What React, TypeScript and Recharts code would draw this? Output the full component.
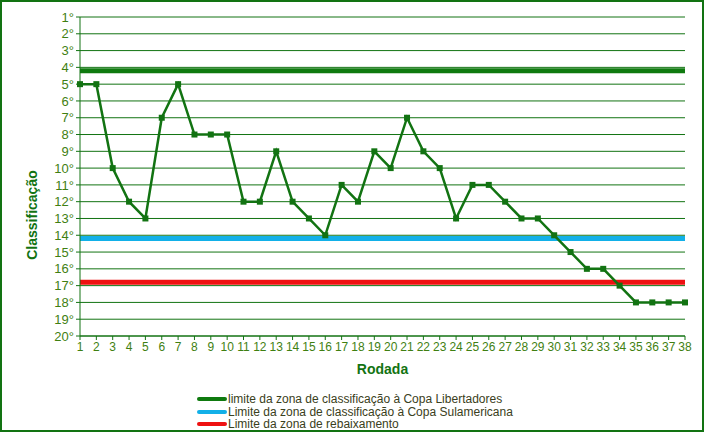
import React from "react";
import { LineChart, Line, XAxis, YAxis, CartesianGrid, ReferenceLine, Label } from "recharts";

const rodadas = Array.from({ length: 38 }, (_, i) => i + 1);
const posicoes = [
  5, 5, 10, 12, 13, 7, 5, 8, 8, 8, 12, 12, 9, 12, 13, 14, 11, 12, 9, 10, 7, 9, 10, 13, 11, 11, 12,
  13, 13, 14, 15, 16, 16, 17, 18, 18, 18, 18,
];
const yTicks = Array.from({ length: 20 }, (_, i) => i + 1);

const limites = [
  { label: "limite da zona de classificação à Copa Libertadores", y: 4.2, color: "#0f7a0f" },
  { label: "Limite da zona de classificação à Copa Sulamericana", y: 14.2, color: "#12b0e8" },
  { label: "Limite da zona de rebaixamento", y: 16.8, color: "#ee1111" },
];

const GREEN = "#127312";
const TICK = "#3f7f12";
const FONT = "'Liberation Sans', Arial, sans-serif";

const data = rodadas.map((r, i) => ({ rodada: r, pos: posicoes[i] }));

const SquareDot = (props: any) => {
  const { cx, cy } = props;
  if (cx == null || cy == null) return null;
  return <rect x={cx - 3} y={cy - 3} width={6} height={6} fill={GREEN} />;
};

// titulo do eixo Y, um pouco abaixo do centro como no original
const YTitle = () => (
  <text
    x={30}
    y={213}
    transform="rotate(-90, 30, 213)"
    textAnchor="middle"
    dominantBaseline="central"
    style={{ fill: GREEN, fontSize: 14, fontWeight: "bold", fontFamily: FONT }}
  >
    Classificação
  </text>
);

const App: React.FC = () => {
  return (
    <div
      style={{
        position: "absolute",
        left: 0,
        top: 0,
        width: 704,
        height: 432,
        border: `2px solid ${GREEN}`,
        boxSizing: "border-box",
        background: "#fff",
        fontFamily: FONT,
      }}
    >
      <LineChart width={700} height={428} data={data} margin={{ top: 15, right: 17, bottom: 54, left: 0 }}>
        <CartesianGrid horizontal vertical={false} stroke={GREEN} strokeOpacity={1} />
        <XAxis
          dataKey="rodada"
          height={40}
          interval={0}
          stroke={GREEN}
          tickSize={4}
          tick={{ fill: TICK, fontSize: 12, fontFamily: FONT }}
        >
          <Label
            value="Rodada"
            position="insideBottom"
            offset={2}
            style={{ fill: GREEN, fontSize: 14, fontWeight: "bold", fontFamily: FONT }}
          />
        </XAxis>
        <YAxis
          type="number"
          domain={[1, 20]}
          reversed
          ticks={yTicks}
          interval={0}
          width={78}
          stroke={GREEN}
          tickSize={4}
          tickFormatter={(v: number) => `${v}°`}
          tick={{ fill: TICK, fontSize: 13, fontFamily: FONT }}
        >
          <Label content={<YTitle />} />
        </YAxis>
        {limites.map((l) => (
          <ReferenceLine key={l.label} y={l.y} stroke={l.color} strokeWidth={5} ifOverflow="extendDomain" />
        ))}
        <Line
          type="linear"
          dataKey="pos"
          stroke={GREEN}
          strokeWidth={2.5}
          dot={<SquareDot />}
          activeDot={false}
          isAnimationActive={false}
        />
      </LineChart>
      <div style={{ position: "absolute", left: 195, top: 391, fontSize: 12, lineHeight: "12.5px", color: "#3a4020" }}>
        {limites.map((l) => (
          <div key={l.label} style={{ display: "flex", alignItems: "center" }}>
            <span
              style={{
                display: "inline-block",
                width: 30,
                height: 4,
                borderRadius: 2,
                background: l.color,
                marginRight: 1,
              }}
            />
            <span>{l.label}</span>
          </div>
        ))}
      </div>
    </div>
  );
};

export default App;
